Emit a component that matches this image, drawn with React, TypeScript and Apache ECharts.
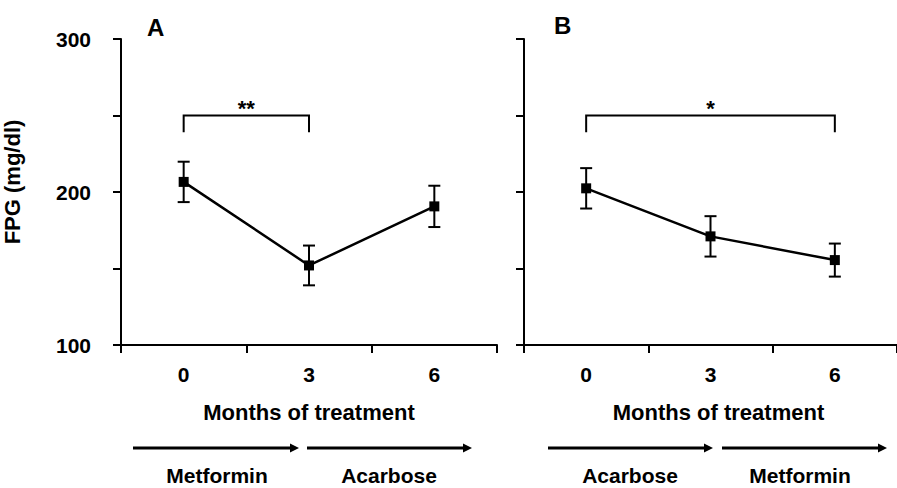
import React, { useEffect, useRef } from 'react';
import * as echarts from 'echarts';

const months = ['0', '3', '6'];
const fpgA = [206.6, 152, 190.6];
const errA = [13.2, 13, 13.5];
const fpgB = [202.4, 171, 155.5];
const errB = [13.2, 13.2, 10.8];
const yMin = 100;
const yMax = 300;
const yStep = 50;
const bracketA = [[0, 1, 250, 239]];
const bracketB = [[0, 2, 250, 239]];
const starsA = '**';
const starsB = '*';
const drugsA = ['Metformin', 'Acarbose'];
const drugsB = ['Acarbose', 'Metformin'];
const xName = 'Months of treatment';
const yName = 'FPG (mg/dl)';

const FONT = '"Liberation Sans", Arial, Helvetica, sans-serif';

function errorSeries(mean: number[], err: number[], idx: number) {
  return {
    type: 'custom',
    xAxisIndex: idx,
    yAxisIndex: idx,
    data: mean.map((m, i) => [i, m - err[i], m + err[i]]),
    encode: { x: 0, y: [1, 2] },
    z: 3,
    renderItem: (params: any, api: any) => {
      const lo = api.coord([api.value(0), api.value(1)]);
      const hi = api.coord([api.value(0), api.value(2)]);
      const w = 6;
      const st = { stroke: '#000', lineWidth: 2 };
      return {
        type: 'group',
        children: [
          { type: 'line', shape: { x1: lo[0], y1: lo[1], x2: hi[0], y2: hi[1] }, style: st },
          { type: 'line', shape: { x1: lo[0] - w, y1: lo[1], x2: lo[0] + w, y2: lo[1] }, style: st },
          { type: 'line', shape: { x1: hi[0] - w, y1: hi[1], x2: hi[0] + w, y2: hi[1] }, style: st },
        ],
      };
    },
  };
}

function bracketSeries(data: number[][], label: string, idx: number) {
  return {
    type: 'custom',
    xAxisIndex: idx,
    yAxisIndex: idx,
    data,
    encode: { x: [0, 1], y: [2, 3] },
    z: 3,
    clip: false,
    renderItem: (params: any, api: any) => {
      const a = api.coord([api.value(0), api.value(3)]);
      const b = api.coord([api.value(0), api.value(2)]);
      const c = api.coord([api.value(1), api.value(2)]);
      const d = api.coord([api.value(1), api.value(3)]);
      return {
        type: 'group',
        children: [
          {
            type: 'polyline',
            shape: { points: [a, b, c, d] },
            style: { stroke: '#000', lineWidth: 2, fill: 'none' },
          },
          {
            type: 'text',
            x: (b[0] + c[0]) / 2,
            y: b[1] - 7,
            style: {
              text: label,
              fill: '#000',
              font: `bold 22px ${FONT}`,
              align: 'center',
              verticalAlign: 'middle',
            },
          },
        ],
      };
    },
  };
}

function arrow(x1: number, x2: number, y: number) {
  const head = 9;
  return [
    { type: 'line', shape: { x1, y1: y, x2: x2 - head + 1, y2: y }, style: { stroke: '#000', lineWidth: 3 } },
    {
      type: 'polygon',
      shape: { points: [[x2 - head, y - 4.5], [x2, y], [x2 - head, y + 4.5]] },
      style: { fill: '#000' },
    },
  ];
}

function drugText(text: string, x: number, y: number) {
  return {
    type: 'text',
    x,
    y,
    style: { text, fill: '#000', font: `bold 21px ${FONT}`, align: 'center', verticalAlign: 'middle' },
  };
}

export default function App() {
  const ref = useRef<HTMLDivElement>(null);
  useEffect(() => {
    if (!ref.current) return;
    const chart = echarts.init(ref.current, null, { renderer: 'svg' });
    const axisLine = { show: true, lineStyle: { color: '#000', width: 2 } };
    const axisTick = { show: true, length: 8, lineStyle: { color: '#000', width: 2 } };
    const xAxisBase = {
      type: 'category',
      data: months,
      boundaryGap: true,
      axisLine,
      axisTick: { ...axisTick, alignWithLabel: false },
      axisLabel: { color: '#000', fontSize: 21, fontWeight: 'bold', fontFamily: FONT, margin: 19 },
      name: xName,
      nameLocation: 'middle',
      nameGap: 56,
      nameTextStyle: { color: '#000', fontSize: 22, fontWeight: 'bold', fontFamily: FONT },
      splitLine: { show: false },
    };
    const yAxisBase = {
      type: 'value',
      min: yMin,
      max: yMax,
      interval: yStep,
      axisLine,
      axisTick,
      splitLine: { show: false },
    };
    const option: any = {
      animation: false,
      backgroundColor: '#fff',
      title: [
        { text: 'A', left: 147, top: 15, padding: 0, textStyle: { fontSize: 24, fontWeight: 'bold', fontFamily: FONT, color: '#000' } },
        { text: 'B', left: 554, top: 13, padding: 0, textStyle: { fontSize: 24, fontWeight: 'bold', fontFamily: FONT, color: '#000' } },
      ],
      grid: [
        { left: 121, top: 39, width: 376, height: 306 },
        { left: 524, top: 39, width: 380, height: 306 },
      ],
      xAxis: [
        { ...xAxisBase, gridIndex: 0 },
        { ...xAxisBase, gridIndex: 1, nameTextStyle: { ...xAxisBase.nameTextStyle, padding: [0, 0, 0, 16] } },
      ],
      yAxis: [
        {
          ...yAxisBase,
          gridIndex: 0,
          axisLabel: {
            color: '#000',
            fontSize: 21,
            fontWeight: 'bold',
            fontFamily: FONT,
            margin: 30,
            formatter: (v: number) => (v % 100 === 0 ? String(v) : ''),
          },
          name: yName,
          nameLocation: 'middle',
          nameGap: 98,
          nameTextStyle: { color: '#000', fontSize: 22, fontWeight: 'bold', fontFamily: FONT, padding: [0, 0, 0, 20] },
        },
        { ...yAxisBase, gridIndex: 1, axisLabel: { show: false } },
      ],
      series: [
        errorSeries(fpgA, errA, 0),
        errorSeries(fpgB, errB, 1),
        {
          type: 'line',
          xAxisIndex: 0,
          yAxisIndex: 0,
          data: fpgA,
          symbol: 'rect',
          symbolSize: 10,
          itemStyle: { color: '#000' },
          lineStyle: { color: '#000', width: 2.5 },
          z: 4,
        },
        {
          type: 'line',
          xAxisIndex: 1,
          yAxisIndex: 1,
          data: fpgB,
          symbol: 'rect',
          symbolSize: 10,
          itemStyle: { color: '#000' },
          lineStyle: { color: '#000', width: 2.5 },
          z: 4,
        },
        bracketSeries(bracketA, starsA, 0),
        bracketSeries(bracketB, starsB, 1),
      ],
      graphic: [
        ...arrow(133, 299, 448),
        ...arrow(307, 472, 448),
        ...arrow(548, 713, 448),
        ...arrow(722, 887, 448),
        drugText(drugsA[0], 217, 475),
        drugText(drugsA[1], 389, 475),
        drugText(drugsB[0], 630, 475),
        drugText(drugsB[1], 800, 475),
      ],
    };
    chart.setOption(option);
    return () => chart.dispose();
  }, []);
  return <div ref={ref} style={{ width: 897, height: 488, position: 'absolute', left: 0, top: 0 }} />;
}
